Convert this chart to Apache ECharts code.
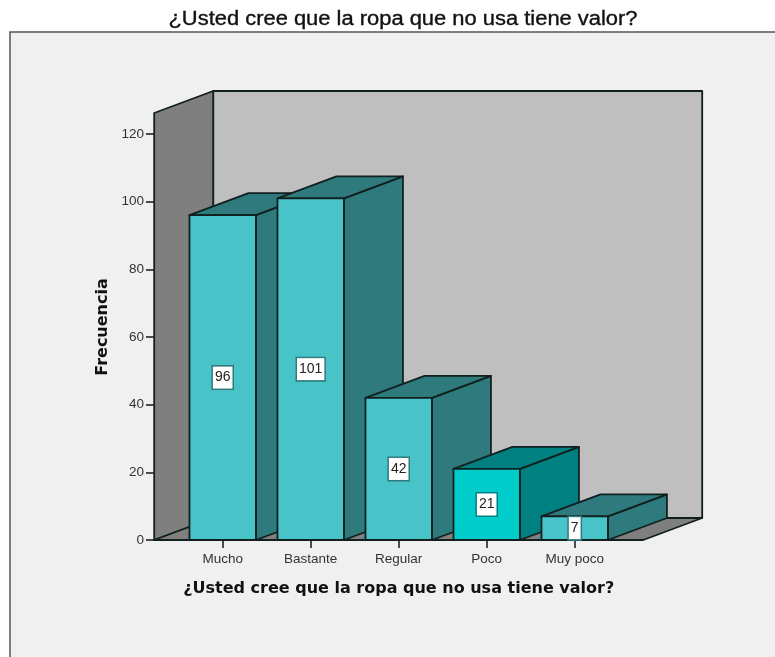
<!DOCTYPE html>
<html>
<head>
<meta charset="utf-8">
<style>html,body{margin:0;padding:0;background:#fff}#c{width:775px;height:657px}</style>
<script src="https://cdn.jsdelivr.net/npm/echarts@6/dist/echarts.min.js"></script>
</head>
<body>
<div id="c"></div>
<script>
const titleText = '¿Usted cree que la ropa que no usa tiene valor?';
const yAxisName = 'Frecuencia';
const categories = ['Mucho', 'Bastante', 'Regular', 'Poco', 'Muy poco'];
const values = [96, 101, 42, 21, 7];
const yTop = 126.2;
const frontColors = ['#48C3C8', '#48C3C8', '#48C3C8', '#00CCCC', '#48C3C8'];
const shadeColors = ['#2E7A7C', '#2E7A7C', '#2E7A7C', '#008080', '#2E7A7C'];

const DX = 59, DY = -22;
const EDGE = '#10201F';
const chart = echarts.init(document.getElementById('c'), null, {renderer: 'canvas'});

function face(points, fill, lw) {
  return {type: 'polygon', shape: {points}, style: {fill, stroke: EDGE, lineWidth: lw || 1.8, lineJoin: 'round'}};
}

function renderFrame(params, api) {
  const c0 = api.coord([0, 0]), c4 = api.coord([4, 0]);
  const top = api.coord([0, yTop])[1];
  const l = c0[0] - 68.5, r = c4[0] + 68.5, b = c0[1];
  return {type: 'group', silent: true, children: [
    face([[l + DX, top + DY], [r + DX, top + DY], [r + DX, b + DY], [l + DX, b + DY]], '#BFBFBF'),
    face([[l, top], [l + DX, top + DY], [l + DX, b + DY], [l, b]], '#7F7F7F'),
    face([[l, b], [l + DX, b + DY], [r + DX, b + DY], [r, b]], '#7F7F7F')
  ]};
}

function renderBar(params, api) {
  const i = api.value(0), v = api.value(1);
  const p = api.coord([i, v]), base = api.coord([i, 0]);
  const w = api.size([1, 0])[0] * 0.755;
  const x0 = p[0] - w / 2, x1 = p[0] + w / 2, yT = p[1], yB = base[1];
  const mid = api.coord([i, v / 2])[1];
  return {type: 'group', children: [
    face([[x1, yT], [x1 + DX, yT + DY], [x1 + DX, yB + DY], [x1, yB]], shadeColors[i]),
    face([[x0, yT], [x0 + DX, yT + DY], [x1 + DX, yT + DY], [x1, yT]], shadeColors[i]),
    face([[x0, yT], [x1, yT], [x1, yB], [x0, yB]], frontColors[i]),
    {type: 'text', x: p[0], y: mid, z2: 10, style: {
      text: String(v), fontFamily: 'Liberation Sans', fontSize: 14, fill: '#222',
      align: 'center', verticalAlign: 'middle',
      backgroundColor: '#fff', borderColor: shadeColors[i], borderWidth: 1.5,
      padding: [4, 2, 4, 2]
    }}
  ]};
}

chart.setOption({
  animation: false,
  backgroundColor: 'transparent',
  graphic: [
    {type: 'rect', z: -10, silent: true, shape: {x: 10, y: 32, width: 800, height: 700},
      style: {fill: '#F0F0F0', stroke: '#555', lineWidth: 1.5}},
    {type: 'text', z: 10, silent: true, x: 403, y: 20, scaleX: 1.124, style: {
      text: titleText, fontFamily: 'Liberation Sans', fontSize: 19.5, fill: '#111',
      align: 'center', verticalAlign: 'middle', stroke: '#111', lineWidth: 0.35}}
  ],
  grid: {left: 178.7, top: 134, width: 440, height: 406, containLabel: false},
  xAxis: {type: 'category', data: categories, name: titleText, nameLocation: 'middle', nameGap: 41,
    nameTextStyle: {fontFamily: 'DejaVu Sans', fontWeight: 'bold', fontSize: 16, color: '#111'},
    axisLine: {show: false},
    axisTick: {show: true, alignWithLabel: true, length: 8, lineStyle: {color: '#222', width: 1.6}},
    axisLabel: {fontFamily: 'Liberation Sans', fontSize: 13.5, color: '#333', margin: 12, interval: 0}},
  yAxis: {type: 'value', min: 0, max: 120, interval: 20, offset: 24.7, name: yAxisName, nameLocation: 'middle', nameGap: 43, nameRotate: 90,
    nameTextStyle: {fontFamily: 'DejaVu Sans', fontWeight: 'bold', fontSize: 16, color: '#111', padding: [0, 0, 0, 20]},
    axisLine: {show: false},
    axisTick: {show: true, length: 8, lineStyle: {color: '#222', width: 1.6}},
    axisLabel: {fontFamily: 'Liberation Sans', fontSize: 13.5, color: '#333', margin: 10, padding: [2, 0, 0, 0]},
    splitLine: {show: false}},
  series: [
    {type: 'custom', z: 1, clip: false, renderItem: renderFrame, data: [[0, 0]], silent: true},
    {type: 'custom', z: 2, clip: false, renderItem: renderBar, data: values.map((v, i) => [i, v]), encode: {x: 0, y: 1}}
  ]
});
</script>
</body>
</html>
